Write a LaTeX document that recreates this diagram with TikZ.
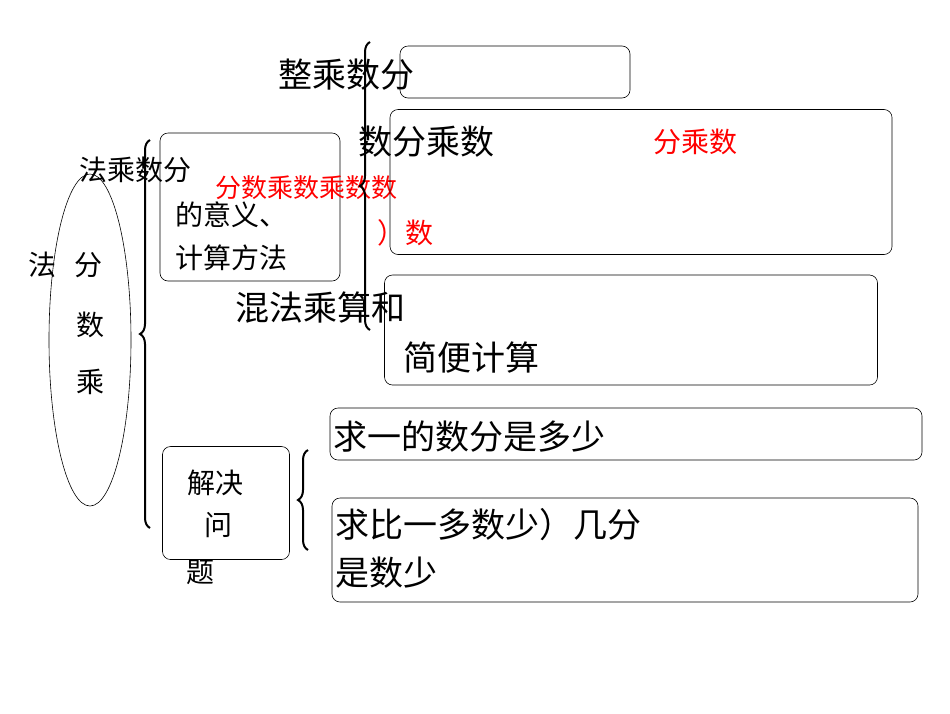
\documentclass[tikz,border=0pt]{standalone}
\usepackage{fontspec}
\setmainfont{Noto Sans CJK SC}
\usetikzlibrary{decorations.pathreplacing,shapes.geometric}
\begin{document}
\begin{tikzpicture}[x=1pt,y=-1pt,
  bx/.style={draw,rounded corners=8pt,line width=0.6pt},
  big/.style={font=\fontsize{34}{36}\selectfont,inner sep=0pt},
  mid/.style={font=\fontsize{28}{30}\selectfont,inner sep=0pt},
  red/.style={text=red},
  br/.style={decorate,decoration={brace,amplitude=10pt},line width=2pt}]
\path[use as bounding box,fill=white] (0,0) rectangle (950,713);
\node[draw,ellipse,minimum width=82pt,minimum height=332pt,line width=0.6pt] (el) at (90,340) {};
\node[mid] (t1) at (42,265) {法};
\node[mid] (t2) at (88,265) {分};
\node[mid] (t3) at (90,325) {数};
\node[mid] (t4) at (90,382) {乘};
\node[mid] (t5) at (135,170) {法乘数分};
\coordinate (b1a) at (150,528); \coordinate (b1b) at (150,140);
\draw[br] (b1a) -- (b1b);
\node[bx,minimum width=180pt,minimum height=148pt] (m1) at (250,207) {};
\node[mid,anchor=west] (m1a) at (175,215) {的意义、};
\node[mid,anchor=west] (m1b) at (175,258) {计算方法};
\node[mid,red,anchor=west,font=\fontsize{26}{28}\selectfont] (m1c) at (215,188) {分数乘数乘数数};
\node[mid,red] (m1e) at (405,233) {）数};
\coordinate (b2a) at (370,330); \coordinate (b2b) at (370,42);
\draw[br] (b2a) -- (b2b);
\node[bx,minimum width=230pt,minimum height=52pt] (r1) at (515,72) {};
\node[big,anchor=west] (r1t) at (278,75) {整乘数分};
\node[bx,minimum width=502pt,minimum height=145pt] (r2) at (641,182) {};
\node[big,anchor=west] (r2t) at (358,142) {数分乘数};
\node[mid,red,anchor=west] (r2r) at (653,142) {分乘数};
\node[bx,minimum width=493pt,minimum height=110pt] (r3) at (631,330) {};
\node[big,anchor=west] (r3t) at (235,308) {混法乘算和};
\node[big,anchor=west] (r3b) at (403,358) {简便计算};
\node[bx,minimum width=592pt,minimum height=52pt] (r4) at (626,434) {};
\node[big,anchor=west] (r4t) at (333,437) {求一的数分是多少};
\node[bx,minimum width=586pt,minimum height=104pt] (r5) at (625,550) {};
\node[big,anchor=west] (r5t) at (335,525) {求比一多数少）几分};
\node[big,anchor=west] (r5b) at (335,573) {是数少};
\node[bx,minimum width=127pt,minimum height=113pt] (q) at (226,503) {};
\node[mid] (q1) at (215,483) {解决};
\node[mid] (q2) at (218,525) {问};
\node[mid] (q3) at (200,572) {题};
\coordinate (b3a) at (308,550); \coordinate (b3b) at (308,450);
\draw[br] (b3a) -- (b3b);
\end{tikzpicture}
\end{document}
